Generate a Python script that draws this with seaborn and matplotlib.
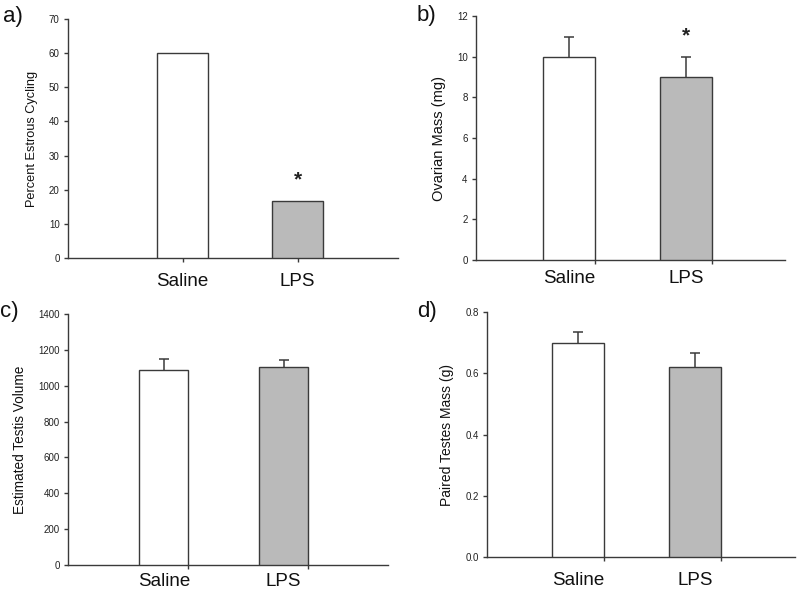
import numpy as np
import seaborn as sns
import matplotlib
matplotlib.use("Agg")
import matplotlib.pyplot as plt

# data
groups = ["Saline", "LPS"]
estrous_pct = [60, 16.7]
ovarian_mass = [10, 9]
ovarian_err = [1, 1]
testis_vol = [1089, 1103]
testis_vol_err = [60, 40]
testes_mass = [0.70, 0.62]
testes_mass_err = [0.034, 0.045]

sns.set_style("ticks")
plt.rcParams["font.family"] = ["Liberation Sans", "DejaVu Sans"]

bar_colors = ["#ffffff", "#bababa"]
edge = "#3a3a3a"

fig = plt.figure(figsize=(8, 5.96), dpi=100)

# one dict per panel: position, labels, axis ranges and annotation spots
panels = [
    dict(rect=[0.085, 0.567, 0.4125, 0.401], label="a)", lab_xy=(0.004, 0.972),
         ylab="Percent Estrous Cycling", vals=estrous_pct, err=None, ylim=70,
         yticks=np.arange(0, 71, 10), fmt="{:.0f}", width=0.44, xlim=(-0.996, 1.874),
         edge_ticks=False, star=22.9, ylab_size=9.2, xpad=8),
    dict(rect=[0.595, 0.5638, 0.386, 0.409], label="b)", lab_xy=(0.521, 0.974),
         ylab="Ovarian Mass (mg)", vals=ovarian_mass, err=ovarian_err, ylim=12,
         yticks=np.arange(0, 13, 2), fmt="{:.0f}", width=0.445, xlim=(-0.795, 1.846),
         edge_ticks=True, star=11.05, ylab_size=10.5, xpad=7),
    dict(rect=[0.085, 0.052, 0.40, 0.421], label="c)", lab_xy=(0.0, 0.477),
         ylab="Estimated Testis Volume", vals=testis_vol, err=testis_vol_err, ylim=1400,
         yticks=np.arange(0, 1401, 200), fmt="{:.0f}", width=0.41, xlim=(-0.80, 1.87),
         edge_ticks=True, star=None, ylab_size=9.8, xpad=6),
    dict(rect=[0.609, 0.0654, 0.385, 0.411], label="d)", lab_xy=(0.521, 0.477),
         ylab="Paired Testes Mass (g)", vals=testes_mass, err=testes_mass_err, ylim=0.8,
         yticks=np.arange(0, 0.81, 0.2), fmt="{:.1f}", width=0.444, xlim=(-0.78, 1.855),
         edge_ticks=True, star=None, ylab_size=10, xpad=11),
]

for p in panels:
    ax = fig.add_axes(p["rect"])
    sns.barplot(x=groups, y=p["vals"], hue=groups, palette=bar_colors, legend=False,
                width=p["width"], edgecolor=edge, linewidth=1.0, ax=ax, zorder=3)
    x = np.arange(len(groups))
    if p["err"] is not None:
        # only the upper half of the error bar, like the original
        eb = ax.errorbar(x, p["vals"], yerr=[[0] * len(groups), p["err"]], fmt="none",
                         ecolor=edge, elinewidth=1.1, capsize=3.5, capthick=1.1, zorder=2)
        eb[1][0].set_visible(False)  # hide the lower cap
    if p["star"] is not None:
        ax.text(1, p["star"], "*", ha="center", va="center", fontsize=15, fontweight="bold",
                color="#222222")

    ax.set_xlim(*p["xlim"])
    ax.set_ylim(0, p["ylim"])
    ax.set_yticks(p["yticks"])
    ax.set_yticklabels([p["fmt"].format(v) for v in p["yticks"]], fontsize=7, color="#222222")
    ax.set_xticks(x)
    ax.set_xticklabels(groups, fontsize=13.5, color="#111111")
    if p["edge_ticks"]:
        # SigmaPlot style: tick marks sit at the right edge of each bar
        ax.tick_params(axis="x", which="major", length=0, pad=p["xpad"])
        ax.set_xticks(x + p["width"] / 2, minor=True)
        ax.tick_params(axis="x", which="minor", length=3, width=1, color=edge)
    else:
        ax.tick_params(axis="x", which="major", length=3, width=1, color=edge, pad=p["xpad"])
    ax.tick_params(axis="y", length=3, width=1, color=edge, pad=3)
    ax.set_xlabel("")
    ax.set_ylabel(p["ylab"], fontsize=p["ylab_size"], color="#111111", labelpad=8)
    for s in ["left", "bottom"]:
        ax.spines[s].set_color(edge)
        ax.spines[s].set_linewidth(1.0)
    sns.despine(ax=ax)

    fig.text(p["lab_xy"][0], p["lab_xy"][1], p["label"], fontsize=16, va="center",
             ha="left", color="#111111")

fig.savefig("out.png", dpi=100)
